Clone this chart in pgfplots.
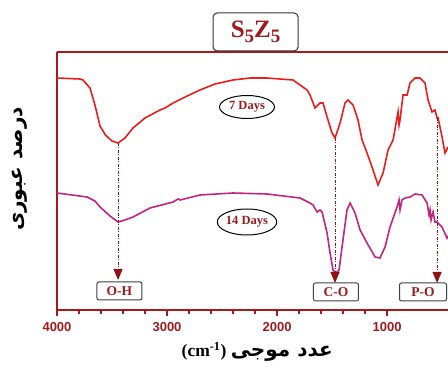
\documentclass[border=0pt]{standalone}
\usepackage{pgfplots}
\pgfplotsset{compat=1.18}
\usepackage{fontspec}
\usetikzlibrary{arrows.meta,shapes.geometric}
\setmainfont{Liberation Serif}
\newfontfamily\sansb{Liberation Sans}
\newfontfamily\arabicfont[Script=Arabic]{DejaVu Sans}
\TeXXeTstate=1
\definecolor{frame}{HTML}{A8191C}
\definecolor{dred}{HTML}{9B1B1F}
\definecolor{redc}{HTML}{EC1C1C}
\definecolor{magc}{HTML}{C2247F}
\definecolor{arr}{HTML}{8E1116}
\begin{document}
\begin{tikzpicture}[x=1pt,y=1pt]
\begin{axis}[
  scale only axis, width=391pt, height=258pt,
  x dir=reverse, xmin=446, xmax=4000, ymin=0, ymax=258,
  axis x line*=box, axis y line*=left,
  axis line style={frame, line width=1.5pt},
  xtick={1000,2000,3000,4000}, minor x tick num=4,
  xtick pos=bottom, tick align=outside,
  major tick length=6pt, minor tick length=4pt,
  every tick/.style={frame, line width=1.3pt},
  ytick=\empty,
  /pgf/number format/assume math mode=true,
  /pgf/number format/1000 sep={},
  xticklabel style={font=\sansb\bfseries\fontsize{13}{13}\selectfont, text=dred, yshift=-3pt},
  clip mode=individual,
]
\addplot[redc, line width=1.6pt] coordinates {
(4000,232)(3791,231)(3764,230)(3700,222)(3655,205)(3609,184)(3560,175)(3500,169)(3445,167)
(3382,172)(3309,182)(3200,192)(3064,200)(3018,202)(2945,207)(2836,213)(2700,220)
(2564,226)(2400,230)(2245,232)(2091,232)(1973,231)(1855,230)(1791,225)(1727,220)
(1700,215)(1655,202)(1609,207)(1582,207)(1545,193)(1500,177)(1473,172)(1427,187)
(1382,207)(1355,210)(1309,205)(1264,190)(1227,170)(1182,157)(1127,140)(1082,125)
(1036,137)(991,160)(945,170)(900,198)(891,185)(882,190)(855,215)(818,215)(791,227)
(745,232)(700,232)(655,227)(627,210)(591,198)(564,200)(545,192)(536,192)(500,173)
(473,157)(446,163)};
\addplot[magc, line width=1.6pt] coordinates {
(4000,117)(3727,113)(3655,109)(3609,103)(3518,94)(3445,88)(3382,90)(3309,93)
(3155,102)(2945,108)(2900,111)(2880,110)(2700,115)(2400,117)(2091,116)(1791,112)
(1700,107)(1673,105)(1636,98)(1609,100)(1591,98)(1545,77)(1518,57)(1491,40)
(1464,37)(1436,40)(1409,63)(1364,100)(1336,107)(1291,97)(1245,80)(1182,67)
(1109,53)(1064,52)(1018,63)(973,83)(909,103)(891,110)(882,100)(864,110)(836,112)
(791,113)(745,116)(682,115)(636,107)(618,95)(609,100)(600,90)(582,98)(564,88)
(545,88)(500,83)(455,72)(446,74)};
% arrows
\draw[arr, line width=1pt, dash pattern=on 3pt off 1.5pt on 1pt off 1.5pt, -{Triangle[width=9pt,length=11pt]}]
  (axis cs:3445,167) -- (axis cs:3445,30);
\draw[arr, line width=1pt, dash pattern=on 3pt off 1.5pt on 1pt off 1.5pt, -{Triangle[width=9pt,length=11pt]}]
  (axis cs:1473,172) -- (axis cs:1473,27);
\draw[arr, line width=1pt, dash pattern=on 3pt off 1.5pt on 1pt off 1.5pt, -{Triangle[width=9pt,length=11pt]}]
  (axis cs:545,192) -- (axis cs:545,27);
% boxes
\tikzset{lbox/.style={draw=black!75, line width=1pt, rounded corners=2pt, fill=white, text=dred,
  font=\bfseries\fontsize{13.5}{14}\selectfont, minimum width=45pt, minimum height=18pt, inner sep=1pt}}
\node[lbox] at (axis cs:3432,19) {O-H};
\node[lbox] at (axis cs:1464,18) {C-O};
\node[lbox, minimum width=47pt] at (axis cs:673,18) {P-O};
% ellipses
\node[ellipse, draw=black, line width=1pt, fill=white, text=dred, inner sep=0pt,
  minimum width=55pt, minimum height=23pt, font=\bfseries\fontsize{12.5}{13}\selectfont] at (axis cs:2273,203) {7 Days};
\node[ellipse, draw=black, line width=1pt, fill=white, text=dred, inner sep=0pt,
  minimum width=55pt, minimum height=26pt, font=\bfseries\fontsize{12.5}{13}\selectfont] at (axis cs:2273,88) {14 Days};
% title
\node[draw=black!80, line width=1pt, rounded corners=4pt, fill=white, text=dred,
  minimum width=85pt, minimum height=38pt, inner sep=1pt,
  font=\bfseries\fontsize{25}{26}\selectfont] at (axis cs:2195,278) {S{\fontsize{19}{20}\selectfont\raisebox{-5pt}{5}}Z{\fontsize{19}{20}\selectfont\raisebox{-5pt}{5}}};
% labels
\node[rotate=90, font=\arabicfont\bfseries\fontsize{20}{22}\selectfont] at (axis cs:4336,141) {\beginR درصد عبوری\endR};
\node[font=\bfseries\fontsize{17.5}{18}\selectfont] at (axis cs:2180,-42) {(cm\textsuperscript{-1}) {\arabicfont\fontsize{20}{22}\selectfont\beginR عدد موجی\endR}};
\end{axis}
\pgfresetboundingbox
\path (-57,-57) rectangle (391,310);
\end{tikzpicture}
\end{document}
